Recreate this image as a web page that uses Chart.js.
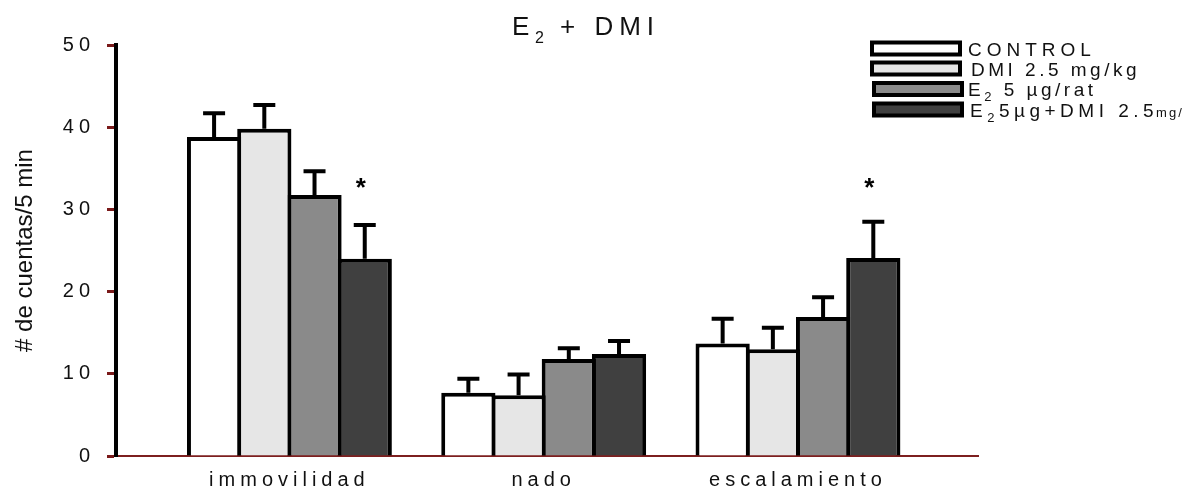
<!DOCTYPE html>
<html lang="es">
<head>
  <meta charset="UTF-8">
  <title>E2 + DMI</title>
  <style>
    html, body { margin: 0; padding: 0; background: #ffffff; }
    #wrap { width: 1183px; height: 492px; }
  </style>
</head>
<body>
  <div id="wrap"><canvas id="chart"></canvas></div>

  <script src="https://cdn.jsdelivr.net/npm/chart.js"></script>
  <script>
    // categorias y series
    const categories = ['immovilidad', 'nado', 'escalamiento'];
    const groupLabels = ['CONTROL', 'DMI 2.5 mg/kg', 'E₂ 5 µg/rat', 'E₂5µg+DMI 2.5mg/kg'];
    const groupColors = ['#ffffff', '#e6e6e6', '#8a8a8a', '#404040'];

    const control = [38.8, 7.7, 13.7];
    const dmi = [39.8, 7.4, 13.0];
    const e2 = [31.75, 11.8, 16.9];
    const e2dmi = [24.0, 12.4, 24.1];

    // error estandar (solo hacia arriba)
    const controlErr = [2.9, 1.7, 3.0];
    const dmiErr = [2.9, 2.5, 2.6];
    const e2Err = [2.9, 1.3, 2.4];
    const e2dmiErr = [4.1, 1.6, 4.4];

    // diferencias significativas (*)
    const e2dmiSignif = [true, false, true];
    const starLevel = 33.1;

    const yTicks = [0, 10, 20, 30, 40, 50];

    const series = [control, dmi, e2, e2dmi];
    const errors = [controlErr, dmiErr, e2Err, e2dmiErr];
    const signif = [null, null, null, e2dmiSignif];

    const datasets = series.map((vals, i) => ({
      label: groupLabels[i],
      data: vals.map((v, j) => ({ x: j + 1, y: v })),
      backgroundColor: groupColors[i],
      borderColor: '#000000',
      borderWidth: 4,
      categoryPercentage: 0.79,
      barPercentage: 1.08
    }));

    const textPlugin = {
      id: 'textPlugin',
      beforeDraw(chart) {
        chart.ctx.letterSpacing = '5px';
      },
      afterDatasetsDraw(chart) {
        const ctx = chart.ctx;
        const y = chart.scales.y;
        ctx.save();
        ctx.strokeStyle = '#000000';
        ctx.lineWidth = 4;
        series.forEach((vals, i) => {
          const meta = chart.getDatasetMeta(i);
          meta.data.forEach((bar, j) => {
            const top = y.getPixelForValue(vals[j] + errors[i][j]);
            ctx.beginPath();
            ctx.moveTo(bar.x, bar.y);
            ctx.lineTo(bar.x, top);
            ctx.moveTo(bar.x - 11, top);
            ctx.lineTo(bar.x + 11, top);
            ctx.stroke();
            if (signif[i] && signif[i][j]) {
              ctx.fillStyle = '#000000';
              ctx.letterSpacing = '0px';
              ctx.font = 'bold 26px Arial, "Liberation Sans"';
              ctx.textAlign = 'center';
              ctx.textBaseline = 'middle';
              ctx.fillText('*', bar.x - 4, y.getPixelForValue(starLevel) + 5);
            }
          });
        });
        ctx.restore();
      },
      afterDraw(chart) {
        const ctx = chart.ctx;
        const area = chart.chartArea;
        ctx.save();
        ctx.fillStyle = '#111111';
        ctx.textBaseline = 'alphabetic';
        ctx.textAlign = 'left';

        // titulo
        ctx.letterSpacing = '6px';
        ctx.font = '26px Arial, "Liberation Sans"';
        ctx.fillText('E', 512, 35);
        ctx.font = '16px Arial, "Liberation Sans"';
        ctx.fillText('2', 535, 43);
        ctx.font = '26px Arial, "Liberation Sans"';
        ctx.fillText('+ DMI', 560, 35);

        // titulo eje y
        ctx.letterSpacing = '0px';
        ctx.save();
        ctx.translate(32, (area.top + area.bottom) / 2);
        ctx.rotate(-Math.PI / 2);
        ctx.textAlign = 'center';
        ctx.font = '24px Arial, "Liberation Sans"';
        ctx.fillText('# de cuentas/5 min', 0, 0);
        ctx.restore();

        // leyenda
        const rowsY = [48.5, 68.5, 89, 109.5];
        const boxX = [872, 872, 874, 874];
        const textX = [968, 971, 968, 970];
        const spacing = ['5px', '3.5px', '3.5px', '4.5px'];
        chart.data.datasets.forEach((ds, i) => {
          ctx.fillStyle = ds.backgroundColor;
          ctx.strokeStyle = '#000000';
          ctx.lineWidth = 4;
          ctx.fillRect(boxX[i], rowsY[i] - 6, 88, 12);
          ctx.strokeRect(boxX[i], rowsY[i] - 6, 88, 12);

          ctx.fillStyle = '#111111';
          ctx.letterSpacing = spacing[i];
          let x = textX[i];
          const base = rowsY[i] + 7;
          let label = ds.label;
          let tail = '';
          const k = label.indexOf('.5mg');
          if (k >= 0) { tail = label.slice(k + 2); label = label.slice(0, k + 2); }
          label.split(/(₂)/).forEach(part => {
            if (!part) return;
            if (part === '₂') {
              ctx.font = '13px Arial, "Liberation Sans"';
              ctx.fillText('2', x, base + 5);
              x += ctx.measureText('2').width;
            } else {
              ctx.font = '19px Arial, "Liberation Sans"';
              ctx.fillText(part, x, base);
              x += ctx.measureText(part).width;
            }
          });
          if (tail) {
            ctx.letterSpacing = '2px';
            ctx.font = '13px Arial, "Liberation Sans"';
            ctx.fillText(tail, x - 2, base);
          }
        });
        ctx.restore();
      }
    };

    new Chart(document.getElementById('chart'), {
      type: 'bar',
      data: { datasets: datasets },
      options: {
        responsive: true,
        maintainAspectRatio: false,
        animation: false,
        layout: { padding: { top: 45, right: 205, left: 0, bottom: 0 } },
        plugins: {
          legend: { display: false },
          title: { display: false },
          tooltip: { enabled: false }
        },
        scales: {
          x: {
            type: 'linear',
            offset: false,
            min: 0.318,
            max: 3.708,
            grid: { display: false, drawTicks: false, offset: false },
            border: { display: true, color: '#7d1f1f', width: 2 },
            afterBuildTicks(scale) {
              scale.ticks = categories.map((c, i) => ({ value: i + 1 }));
            },
            afterFit(scale) { scale.height = 36; },
            ticks: {
              padding: 12,
              color: '#111111',
              font: { family: 'Arial, "Liberation Sans"', size: 20 },
              callback: (v) => categories[v - 1] || ''
            }
          },
          y: {
            min: 0,
            max: 50,
            afterBuildTicks(scale) {
              scale.ticks = yTicks.map(v => ({ value: v }));
            },
            afterFit(scale) { scale.width = 116; },
            grid: {
              drawOnChartArea: false,
              drawTicks: true,
              tickLength: 9,
              tickColor: '#7a1a1a',
              tickWidth: 3
            },
            border: { display: true, color: '#000000', width: 4 },
            ticks: {
              padding: 12,
              color: '#111111',
              font: { family: 'Arial, "Liberation Sans"', size: 20 }
            }
          }
        }
      },
      plugins: [textPlugin]
    });
  </script>
</body>
</html>
